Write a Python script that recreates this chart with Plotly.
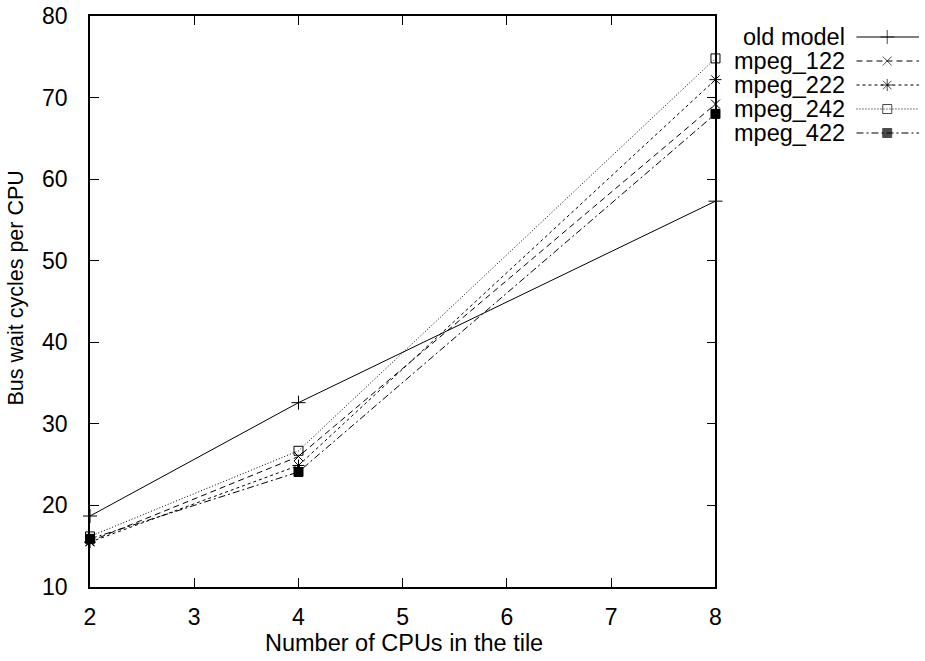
import plotly.graph_objects as go

cpus = [2, 4, 8]
series_names = ["old model", "mpeg_122", "mpeg_222", "mpeg_242", "mpeg_422"]
old_model = [18.7, 32.6, 57.3]
mpeg_122 = [15.6, 26.0, 69.2]
mpeg_222 = [15.5, 24.9, 72.2]
mpeg_242 = [16.2, 26.7, 74.8]
mpeg_422 = [15.9, 24.1, 68.0]
series_values = [old_model, mpeg_122, mpeg_222, mpeg_242, mpeg_422]
x_ticks = [2, 3, 4, 5, 6, 7, 8]
y_ticks = [10, 20, 30, 40, 50, 60, 70, 80]

dashes = ["solid", "6px,4px", "3px,3px", "1px,2px", "7px,3px,2px,3px"]
symbols = ["cross-thin-open", "x-thin-open", "asterisk-open", "square-open", "square"]
msizes = [10, 9, 10, 9, 9]

FONT = "Liberation Sans, Arial, Helvetica, sans-serif"
W, H = 925, 661
L, T, B = 90, 16, 74
plot_w = 630
plot_h = H - T - B
paper_w = W - L
legend_rows = [37, 61, 85, 109, 133]


def px_x(p):
    return (p - L) / paper_w


def px_y(p):
    return (H - B - p) / plot_h


fig = go.Figure()
for name, vals, d, s, ms in zip(series_names, series_values, dashes, symbols, msizes):
    fig.add_trace(go.Scatter(
        x=cpus, y=vals, mode="lines+markers", name=name,
        line=dict(color="black", width=1, dash=d),
        marker=dict(symbol=s, size=ms, color="black",
                    line=dict(color="black", width=1)),
        cliponaxis=False, showlegend=False,
    ))

# custom legend (gnuplot style: text left, sample right)
for i, (name, d, s, ms) in enumerate(zip(series_names, dashes, symbols, msizes)):
    ry = legend_rows[i]
    fig.add_trace(go.Scatter(
        x=[862, 893, 925], y=[ry, ry, ry], mode="lines+markers",
        xaxis="x2", yaxis="y2",
        line=dict(color="black", width=1, dash=d),
        marker=dict(symbol=s, size=[0, ms, 0], color="black",
                    line=dict(color="black", width=1)),
        cliponaxis=False, showlegend=False, hoverinfo="skip",
    ))
    fig.add_annotation(
        x=px_x(851), xref="paper", xanchor="right",
        y=ry, yref="y2", yanchor="middle",
        text=name, showarrow=False, borderpad=0,
        font=dict(family=FONT, size=23.5, color="black"),
    )

# axis titles
fig.add_annotation(
    x=px_x(406), xref="paper", xanchor="center",
    y=px_y(643), yref="paper", yanchor="middle",
    text="Number of CPUs in the tile", showarrow=False,
    font=dict(family=FONT, size=23.5, color="black"),
)
fig.add_annotation(
    x=px_x(15), xref="paper", xanchor="center",
    y=px_y(288), yref="paper", yanchor="middle",
    text="Bus wait cycles per CPU", showarrow=False, textangle=-90,
    font=dict(family=FONT, size=21.5, color="black"),
)

axis_common = dict(
    showline=True, linecolor="black", linewidth=1.5, mirror="ticks",
    ticks="inside", ticklen=9, tickwidth=1.2, tickcolor="black",
    showgrid=False, zeroline=False,
    tickfont=dict(family=FONT, size=23, color="black"),
)

fig.update_layout(
    width=W, height=H,
    margin=dict(l=L, r=0, t=T, b=B, pad=0),
    paper_bgcolor="white", plot_bgcolor="white",
    font=dict(family=FONT, size=22, color="black"),
    xaxis=dict(domain=[0, plot_w / paper_w], range=[2, 8], tickvals=x_ticks,
               ticklabelstandoff=9, **axis_common),
    yaxis=dict(range=[10, 80], tickvals=y_ticks, ticklabelstandoff=16,
               **axis_common),
    xaxis2=dict(domain=[px_x(860), 1], range=[860, 925],
                visible=False, anchor="y2"),
    yaxis2=dict(domain=[0, 1], range=[H - B, T], visible=False, anchor="x2"),
)

fig.write_html("out.html")
